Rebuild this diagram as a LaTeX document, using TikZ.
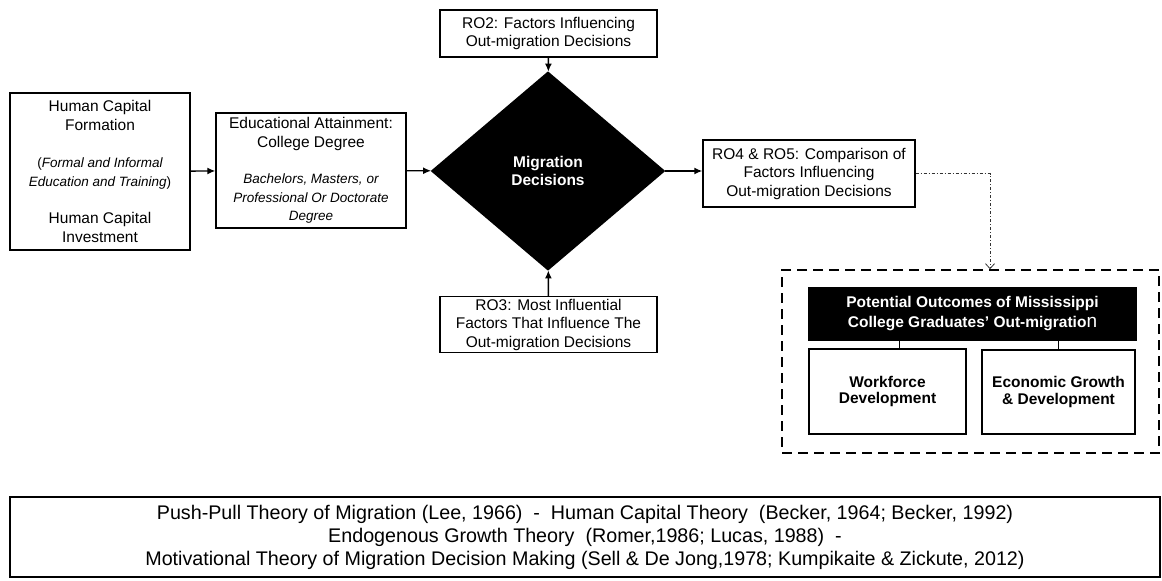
\documentclass[tikz,border=0pt]{standalone}
\usepackage{fontspec}
\setmainfont{Liberation Sans}
\usetikzlibrary{arrows.meta,shapes.geometric}
\newcommand{\txtsz}{\fontsize{15.5}{18.5}\selectfont\upshape}
\newcommand{\itsz}{\fontsize{13.5}{16}\selectfont\itshape}
\tikzset{
  blk/.style={draw, line width=1.4pt, fill=white, align=center, inner sep=2pt, font=\txtsz},
  blkdark/.style={blk, fill=black, text=white, font=\bfseries\txtsz},
  arr/.style={line width=1.4pt, -{Latex[length=8pt,width=7pt]}},
}
\begin{document}
\begin{tikzpicture}[x=1pt,y=-1pt]
\useasboundingbox (0,0) rectangle (1162,581);
% left chain
\node[blk, minimum width=180, minimum height=157] (hcf) at (100,171.5)
  {Human Capital\\Formation\\[19pt]\relax\itsz\textup{(}Formal and Informal\\\itsz Education and Training\textup{)}\\[19pt]Human Capital\\Investment};
\node[blk, minimum width=190, minimum height=115] (edu) at (311,170.5)
  {Educational Attainment:\\College Degree\\[18pt]\relax\itsz Bachelors, Masters, or\\\itsz Professional Or Doctorate\\\itsz Degree};
\node[blkdark, diamond, aspect=1.18, inner sep=0pt, minimum width=233, minimum height=198] (dec) at (548,171)
  {Migration\\Decisions};
% research objectives
\node[blk, minimum width=217, minimum height=47] (rotwo) at (548.5,33.5)
  {RO2: Factors Influencing\\Out-migration Decisions};
\node[blk, minimum width=217, minimum height=55] (rothree) at (548.5,324.5)
  {RO3: Most Influential\\Factors That Influence The\\Out-migration Decisions};
\node[blk, minimum width=212, minimum height=67] (rofour) at (809,173.5)
  {RO4 \& RO5: Comparison of\\Factors Influencing\\Out-migration Decisions};
% outcomes
\node[draw, line width=1.5pt, dash pattern=on 10pt off 6pt, minimum width=377, minimum height=183] (outc) at (970.5,361.5) {};
\node[blkdark, font=\bfseries\fontsize{15.5}{20}\selectfont, minimum width=327, minimum height=52] (title) at (972.5,314)
  {Potential Outcomes of Mississippi\\College Graduates’ Out-migratio\mdseries\fontsize{19}{20}\selectfont n};
\node[blk, font=\bfseries\fontsize{15.5}{16.5}\selectfont, minimum width=157, minimum height=85] (wfd) at (887.5,391.5)
  {Workforce\\Development};
\node[blk, font=\bfseries\fontsize{15.5}{16.5}\selectfont, minimum width=153, minimum height=84] (egd) at (1058.5,392)
  {Economic Growth\\\& Development};
% theories
\node[blk, font=\fontsize{19.7}{23}\selectfont, minimum width=1150, minimum height=80] (theory) at (585,537)
  {Push-Pull Theory of Migration (Lee, 1966) ~-~ Human Capital Theory ~(Becker, 1964; Becker, 1992)\\
   Endogenous Growth Theory ~(Romer,1986; Lucas, 1988) ~-\\
   Motivational Theory of Migration Decision Making (Sell \& De Jong,1978; Kumpikaite \& Zickute, 2012)};
\path[arr]
(hcf) edge (edu)
(edu) edge (dec)
(rotwo) edge (dec)
(rothree) edge (dec)
(dec.east) edge (dec.east -| rofour.west)
;
\draw[line width=0.8pt, black!80, dash pattern=on 3pt off 2pt on 1pt off 2pt, -{Straight Barb[length=5pt,width=9pt]}]
  (rofour.east) -| ([xshift=19.5pt]outc.north);
\draw[line width=0.9pt] ([xshift=11.5pt]wfd.north) -- ([xshift=11.5pt]wfd.north |- title.south);
\draw[line width=0.9pt] (egd.north) -- (egd.north |- title.south);
\end{tikzpicture}
\end{document}
